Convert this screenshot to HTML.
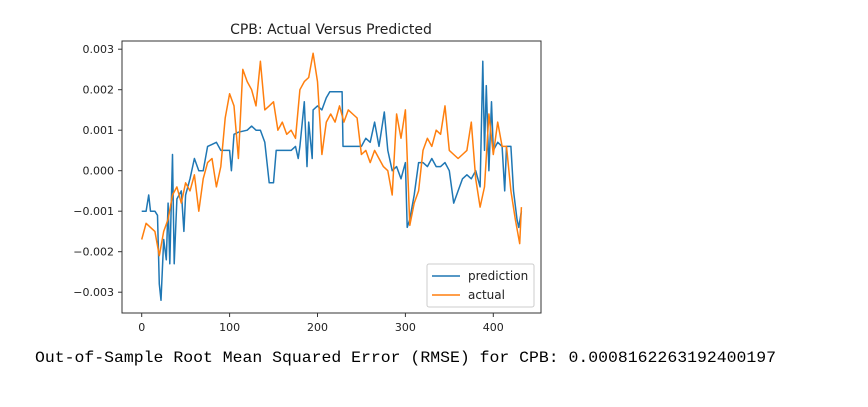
<!DOCTYPE html>
<html><head><meta charset="utf-8"><style>
body{margin:0;background:#fff;width:868px;height:402px;overflow:hidden;font-family:"Liberation Sans","DejaVu Sans",sans-serif}
</style></head><body>
<svg id="chart" width="868" height="402" xmlns="http://www.w3.org/2000/svg">
<text x="331" y="34" text-anchor="middle" font-size="14" fill="#222" font-family="DejaVu Sans, sans-serif">CPB: Actual Versus Predicted</text>
<g id="grid"></g>
<g id="series"></g>
<rect x="122" y="41" width="419" height="272" fill="none" stroke="#333" stroke-width="1"/>
<g>
<rect x="427" y="264" width="107" height="43" rx="2" fill="#fff" stroke="#ccc"/>
<line x1="432" y1="276" x2="460" y2="276" stroke="#1f77b4" stroke-width="1.6"/>
<text x="468" y="280" font-size="12" fill="#222" font-family="DejaVu Sans, sans-serif">prediction</text>
<line x1="432" y1="295" x2="460" y2="295" stroke="#ff7f0e" stroke-width="1.6"/>
<text x="468" y="299" font-size="12" fill="#222" font-family="DejaVu Sans, sans-serif">actual</text>
</g>
<text x="35" y="362" font-size="16" fill="#000" font-family="Liberation Mono, monospace" textLength="741" lengthAdjust="spacingAndGlyphs">Out-of-Sample Root Mean Squared Error (RMSE) for CPB: 0.0008162263192400197</text>
</svg>
<script>
const xTicks=[0,100,200,300,400];
const yTicks=[0.003,0.002,0.001,0.000,-0.001,-0.002,-0.003];
const yTickLabels=["0.003","0.002","0.001","0.000","\u22120.001","\u22120.002","\u22120.003"];
const predIdx=[0,5,8,10,15,18,20,22,25,28,30,32,35,37,40,45,48,50,55,60,65,70,75,80,85,90,95,100,102,105,110,120,125,130,135,140,145,150,153,160,170,175,178,180,185,188,190,194,195,200,205,210,214,228,229,250,255,260,265,270,276,280,285,290,295,300,302,305,310,315,320,325,330,335,340,345,350,355,360,365,370,375,380,385,388,390,392,395,398,400,405,410,413,415,420,423,427,429,432];
const predVal=[-1.0,-1.0,-0.6,-1.0,-1.0,-1.1,-2.8,-3.2,-1.7,-2.2,-0.8,-2.3,0.4,-2.3,-0.7,-0.5,-1.5,-0.6,-0.2,0.3,0.0,0.0,0.6,0.65,0.7,0.5,0.5,0.5,0.0,0.9,0.95,1.0,1.1,1.0,1.0,0.7,-0.3,-0.3,0.5,0.5,0.5,0.6,0.3,0.6,1.7,0.1,1.2,0.3,1.5,1.6,1.5,1.8,1.95,1.95,0.6,0.6,0.8,0.7,1.2,0.6,1.45,0.5,0.0,0.1,-0.2,0.2,-1.4,-1.2,-0.6,0.2,0.2,0.1,0.3,0.1,0.1,0.2,0.0,-0.8,-0.5,-0.2,-0.1,-0.2,0.0,-0.4,2.7,0.5,2.1,0.0,1.7,0.5,0.7,0.6,-0.5,0.6,0.6,-0.5,-1.2,-1.4,-1.0];
const actIdx=[0,5,10,15,20,25,30,35,40,45,50,55,60,65,70,75,80,85,90,95,100,105,110,115,120,125,130,135,140,145,150,155,160,165,170,175,180,185,190,195,200,205,210,215,220,225,230,235,240,245,250,255,260,265,270,275,280,285,290,295,300,305,310,315,320,325,330,335,340,345,350,355,360,365,370,375,380,385,390,395,400,405,410,415,420,425,430,432];
const actVal=[-1.7,-1.3,-1.4,-1.5,-2.1,-1.5,-1.2,-0.6,-0.4,-0.8,-0.3,-0.5,-0.1,-1.0,-0.2,0.2,0.3,-0.4,0.1,1.3,1.9,1.6,0.3,2.5,2.2,2.0,1.6,2.7,1.5,1.6,1.7,1.0,1.2,0.9,1.0,0.8,2.0,2.2,2.3,2.9,2.2,0.4,1.2,1.4,1.2,1.6,1.2,1.5,1.4,1.3,0.4,0.5,0.2,0.5,0.3,0.1,0.0,-0.6,1.4,0.8,1.5,-1.35,-0.8,-0.5,0.5,0.8,0.6,1.0,0.9,1.6,0.5,0.4,0.3,0.4,0.5,1.2,-0.2,-0.9,-0.4,1.4,0.4,1.2,0.6,0.6,-0.5,-1.2,-1.8,-0.9];
const NS='http://www.w3.org/2000/svg';
const X0=141.7, XS=0.879, Y0=170.7, YS=40500;
function sx(i){return X0+i*XS;}
function sy(v){return Y0-v*YS;}
const grid=document.getElementById('grid');
xTicks.forEach(t=>{
  const l=document.createElementNS(NS,'line');
  
  
  l.setAttribute('x1',sx(t));l.setAttribute('x2',sx(t));l.setAttribute('y1',313);l.setAttribute('y2',317);l.setAttribute('stroke','#333');
  grid.appendChild(l);
  const tx=document.createElementNS(NS,'text');
  
  
  tx.setAttribute('x',sx(t));tx.setAttribute('y',331);tx.setAttribute('text-anchor','middle');tx.setAttribute('font-size','11');tx.setAttribute('fill','#222');tx.setAttribute('font-family','DejaVu Sans, sans-serif');
  tx.textContent=t;grid.appendChild(tx);
});
yTicks.forEach((t,k)=>{
  const l=document.createElementNS(NS,'line');
  
  
  l.setAttribute('x1',118);l.setAttribute('x2',122);l.setAttribute('y1',sy(t));l.setAttribute('y2',sy(t));l.setAttribute('stroke','#333');
  grid.appendChild(l);
  const tx=document.createElementNS(NS,'text');
  
  
  tx.setAttribute('x',114);tx.setAttribute('y',sy(t)+4);tx.setAttribute('text-anchor','end');tx.setAttribute('font-size','11');tx.setAttribute('fill','#222');tx.setAttribute('font-family','DejaVu Sans, sans-serif');
  tx.textContent=yTickLabels[k];grid.appendChild(tx);
});
function line(idx,val,color,name){
  const p=document.createElementNS(NS,'polyline');
  
  
  p.setAttribute('points',idx.map((i,k)=>sx(i).toFixed(1)+','+sy(val[k]/1000).toFixed(1)).join(' '));
  p.setAttribute('fill','none');p.setAttribute('stroke',color);p.setAttribute('stroke-width','1.5');p.setAttribute('stroke-linejoin','round');
  document.getElementById('series').appendChild(p);
}
line(predIdx,predVal,'#1f77b4','prediction-line');
line(actIdx,actVal,'#ff7f0e','actual-line');
</script>
</body></html>
